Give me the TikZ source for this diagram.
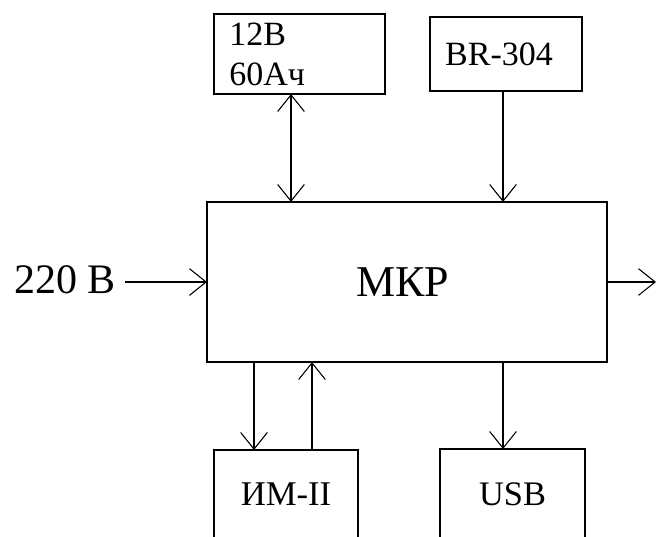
\documentclass[tikz,border=0pt]{standalone}
\usepackage{fontspec}
\setmainfont{Liberation Serif}
\usetikzlibrary{arrows.meta}
\begin{document}
\begin{tikzpicture}[x=0.75pt,y=-0.75pt,
  blk/.style={draw,line width=1.5pt,inner sep=0pt,outer sep=0pt},
  conn/.style={line width=1.5pt,-{Straight Barb[length=12.5pt,width=20pt,line width=0.8pt]}},
  conn2/.style={line width=1.5pt,{Straight Barb[length=12.5pt,width=20pt,line width=0.8pt]}-{Straight Barb[length=12.5pt,width=20pt,line width=0.8pt]}},
  txt/.style={font=\fontsize{25.5pt}{30pt}\selectfont}]
\useasboundingbox (0,0) rectangle (656,536);
\clip (0,0) rectangle (656,536);
\node[blk,minimum width=128.25pt,minimum height=60pt] (bat) at (299.5,54) {};
\node[txt,anchor=base west,align=left,inner sep=0pt] (battxt) at (229,85) {12В\\60Ач};
\node[blk,minimum width=114pt,minimum height=55.5pt] (br) at (506,54) {};
\node[txt,inner sep=0pt] (brtxt) at (499,54) {BR-304};
\node[blk,minimum width=300pt,minimum height=120pt] (mkp) at (407,282) {};
\node[font=\fontsize{33pt}{38pt}\selectfont,inner sep=0pt] (mkptxt) at (402.5,282) {МКР};
\node[blk,minimum width=108pt,minimum height=66pt,font=\fontsize{26pt}{30pt}\selectfont] (im) at (286,494) {ИМ-II};
\node[blk,minimum width=108.75pt,minimum height=67.5pt,font=\fontsize{25.8pt}{30pt}\selectfont] (usb) at (512.5,494) {USB};
\node[font=\fontsize{31.5pt}{36pt}\selectfont,inner sep=0pt] (v220) at (65,280) {220 В};
\coordinate (xa) at (291,0);
\coordinate (xb) at (503,0);
\coordinate (xc) at (254,0);
\coordinate (xd) at (312,0);
\coordinate (in) at (125,282);
\coordinate (out) at (656,282);
\draw[conn2] (bat.south -| xa) -- (mkp.north -| xa);
\draw[conn] (br.south -| xb) -- (mkp.north -| xb);
\draw[conn] (in) -- (mkp.west);
\draw[conn] (mkp.east) -- (out);
\draw[conn] (mkp.south -| xc) -- (im.north -| xc);
\draw[conn] (im.north -| xd) -- (mkp.south -| xd);
\draw[conn] (mkp.south -| xb) -- (usb.north -| xb);
\end{tikzpicture}
\end{document}
